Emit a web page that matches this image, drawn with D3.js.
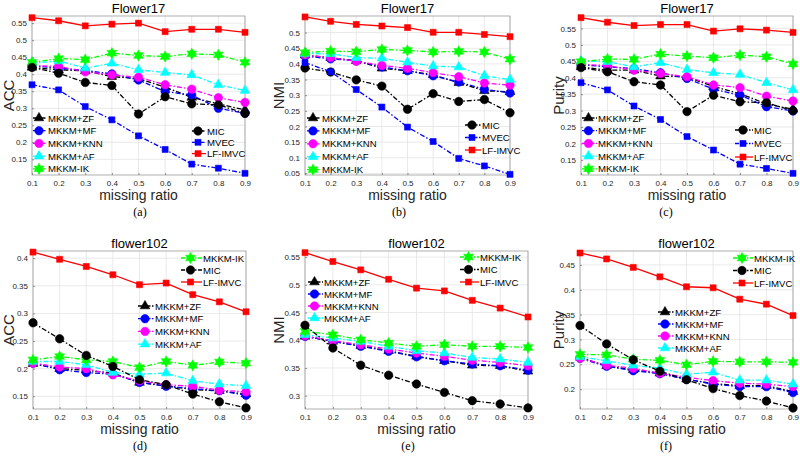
<!DOCTYPE html>
<html>
<head>
<meta charset="utf-8">
<script src="https://cdn.jsdelivr.net/npm/d3@7"></script>
<style>
  body { margin: 0; background: #fff; }
  svg { font-family: "Liberation Sans", Arial, sans-serif; }
  .tick text { fill: #262626; font-size: 8px; }
  .grid line { stroke: #e3e3e3; stroke-width: 0.8; }
</style>
</head>
<body>
<svg id="chart" width="800" height="459"></svg>
<script>
"use strict"

// x values shared by all panels
var ratios = [0.1, 0.2, 0.3, 0.4, 0.5, 0.6, 0.7, 0.8, 0.9]

var seriesNames = ["MKKM+ZF", "MKKM+MF", "MKKM+KNN", "MKKM+AF", "MKKM-IK", "MIC", "MVEC", "LF-IMVC"]

// rows follow seriesNames
var accFlower17 = [
  [0.420, 0.413, 0.410, 0.393, 0.387, 0.362, 0.332, 0.313, 0.295],
  [0.425, 0.418, 0.411, 0.401, 0.383, 0.349, 0.339, 0.300, 0.285],
  [0.425, 0.423, 0.407, 0.398, 0.391, 0.369, 0.356, 0.331, 0.317],
  [0.432, 0.439, 0.418, 0.432, 0.413, 0.405, 0.398, 0.369, 0.352],
  [0.435, 0.446, 0.443, 0.462, 0.455, 0.452, 0.460, 0.457, 0.435],
  [0.420, 0.403, 0.376, 0.367, 0.283, 0.334, 0.313, 0.310, 0.285],
  [0.369, 0.354, 0.305, 0.266, 0.219, 0.179, 0.136, 0.124, 0.109],
  [0.566, 0.557, 0.542, 0.547, 0.550, 0.525, 0.532, 0.532, 0.523]
]
var nmiFlower17 = [
  [0.428, 0.420, 0.410, 0.386, 0.378, 0.365, 0.340, 0.314, 0.311],
  [0.425, 0.416, 0.410, 0.390, 0.378, 0.362, 0.342, 0.319, 0.307],
  [0.428, 0.420, 0.408, 0.395, 0.386, 0.372, 0.359, 0.339, 0.332],
  [0.433, 0.432, 0.420, 0.418, 0.405, 0.393, 0.390, 0.362, 0.350],
  [0.436, 0.441, 0.439, 0.446, 0.443, 0.438, 0.440, 0.438, 0.415],
  [0.387, 0.374, 0.349, 0.329, 0.255, 0.305, 0.280, 0.286, 0.244],
  [0.404, 0.375, 0.318, 0.262, 0.198, 0.152, 0.098, 0.074, 0.047],
  [0.550, 0.536, 0.526, 0.521, 0.516, 0.501, 0.501, 0.494, 0.487]
]
var purityFlower17 = [
  [0.433, 0.423, 0.423, 0.405, 0.403, 0.373, 0.352, 0.320, 0.304],
  [0.440, 0.433, 0.428, 0.415, 0.398, 0.365, 0.347, 0.312, 0.299],
  [0.441, 0.437, 0.423, 0.413, 0.403, 0.378, 0.370, 0.344, 0.329],
  [0.451, 0.449, 0.433, 0.446, 0.425, 0.415, 0.410, 0.385, 0.363],
  [0.449, 0.457, 0.456, 0.472, 0.466, 0.461, 0.469, 0.464, 0.442],
  [0.431, 0.418, 0.388, 0.378, 0.297, 0.347, 0.327, 0.324, 0.300],
  [0.385, 0.363, 0.314, 0.273, 0.221, 0.180, 0.137, 0.124, 0.109],
  [0.583, 0.569, 0.559, 0.562, 0.562, 0.542, 0.549, 0.545, 0.538]
]
var accFlower102 = [
  [0.209, 0.200, 0.197, 0.192, 0.175, 0.169, 0.162, 0.160, 0.154],
  [0.210, 0.198, 0.193, 0.190, 0.175, 0.168, 0.164, 0.160, 0.152],
  [0.210, 0.203, 0.200, 0.189, 0.178, 0.171, 0.168, 0.161, 0.158],
  [0.213, 0.213, 0.207, 0.193, 0.190, 0.192, 0.178, 0.172, 0.169],
  [0.216, 0.222, 0.216, 0.213, 0.202, 0.213, 0.206, 0.212, 0.210],
  [0.283, 0.254, 0.224, 0.204, 0.180, 0.171, 0.154, 0.140, 0.129],
  null,
  [0.411, 0.398, 0.385, 0.370, 0.352, 0.355, 0.334, 0.321, 0.303]
]
var nmiFlower102 = [
  [0.407, 0.398, 0.390, 0.381, 0.371, 0.363, 0.355, 0.354, 0.344],
  [0.407, 0.398, 0.389, 0.380, 0.370, 0.363, 0.357, 0.354, 0.346],
  [0.408, 0.399, 0.392, 0.384, 0.377, 0.371, 0.364, 0.360, 0.354],
  [0.410, 0.404, 0.398, 0.389, 0.381, 0.377, 0.369, 0.366, 0.360],
  [0.416, 0.410, 0.401, 0.395, 0.389, 0.392, 0.389, 0.389, 0.387],
  [0.427, 0.386, 0.355, 0.337, 0.321, 0.306, 0.291, 0.285, 0.278],
  null,
  [0.558, 0.542, 0.527, 0.510, 0.494, 0.489, 0.472, 0.458, 0.442]
]
var purityFlower102 = [
  [0.264, 0.247, 0.239, 0.232, 0.220, 0.211, 0.207, 0.207, 0.195],
  [0.262, 0.246, 0.237, 0.231, 0.220, 0.210, 0.205, 0.205, 0.193],
  [0.262, 0.248, 0.242, 0.232, 0.224, 0.217, 0.212, 0.210, 0.205],
  [0.265, 0.257, 0.248, 0.242, 0.230, 0.234, 0.218, 0.218, 0.210],
  [0.270, 0.269, 0.260, 0.258, 0.249, 0.256, 0.255, 0.255, 0.254],
  [0.328, 0.291, 0.259, 0.236, 0.219, 0.201, 0.187, 0.176, 0.162],
  null,
  [0.474, 0.462, 0.445, 0.426, 0.406, 0.404, 0.381, 0.371, 0.348]
]

var xTicks = [0.1, 0.2, 0.3, 0.4, 0.5, 0.6, 0.7, 0.8, 0.9]

var styles = [
  { color: "#000000", marker: "triangle", dash: true },
  { color: "#0000ff", marker: "circle", dash: true },
  { color: "#ff00ff", marker: "circle", dash: true },
  { color: "#00ffff", marker: "triangle", dash: true },
  { color: "#00ff00", marker: "hexagram", dash: true },
  { color: "#000000", marker: "circle", dash: true },
  { color: "#0000ff", marker: "square", dash: true },
  { color: "#ff0000", marker: "square", dash: false }
]

// panel frames, caption spots and legend placement
var panels = [
  { data: accFlower17, title: "Flower17", ylab: "ACC", tag: "(a)", tagX: 140,
    x0: 32, x1: 245, y0: 16, y1: 175, ymin: 0.104, ymax: 0.571,
    yticks: [0.15, 0.2, 0.25, 0.3, 0.35, 0.4, 0.45, 0.5, 0.55], ylabX: 9,
    legends: [ { items: [0, 1, 2, 3, 4], x: 33, y: 118, dy: 12.7, len: 14 },
               { items: [5, 6, 7], x: 192, y: 131, dy: 11.3, len: 14 } ] },
  { data: nmiFlower17, title: "Flower17", ylab: "NMI", tag: "(b)", tagX: 399,
    x0: 305, x1: 510, y0: 16, y1: 175, ymin: 0.045, ymax: 0.553,
    yticks: [0.05, 0.1, 0.15, 0.2, 0.25, 0.3, 0.35, 0.4, 0.45, 0.5], ylabX: 279,
    legends: [ { items: [0, 1, 2, 3, 4], x: 307, y: 118, dy: 12.9, len: 14 },
               { items: [5, 6, 7], x: 465, y: 125, dy: 12.5, len: 16 } ] },
  { data: purityFlower17, title: "Flower17", ylab: "Purity", tag: "(c)", tagX: 666,
    x0: 581, x1: 793, y0: 16, y1: 175, ymin: 0.104, ymax: 0.588,
    yticks: [0.15, 0.2, 0.25, 0.3, 0.35, 0.4, 0.45, 0.5, 0.55], ylabX: 559,
    legends: [ { items: [0, 1, 2, 3, 4], x: 582, y: 118, dy: 12.7, len: 15 },
               { items: [5, 6, 7], x: 735, y: 130, dy: 13.5, len: 18 } ] },
  { data: accFlower102, title: "flower102", ylab: "ACC", tag: "(d)", tagX: 140,
    x0: 33, x1: 246, y0: 251, y1: 409, ymin: 0.127, ymax: 0.413,
    yticks: [0.15, 0.2, 0.25, 0.3, 0.35, 0.4], ylabX: 9,
    legends: [ { items: [4, 5, 7], x: 181, y: 258, dy: 12, len: 21 },
               { items: [0, 1, 2, 3], x: 138, y: 306, dy: 12.7, len: 16 } ] },
  { data: nmiFlower102, title: "flower102", ylab: "NMI", tag: "(e)", tagX: 408,
    x0: 305, x1: 528, y0: 251, y1: 409, ymin: 0.276, ymax: 0.561,
    yticks: [0.3, 0.35, 0.4, 0.45, 0.5, 0.55], ylabX: 279,
    legends: [ { items: [4, 5, 7], x: 460, y: 257, dy: 12.5, len: 19 },
               { items: [0, 1, 2, 3], x: 308, y: 282, dy: 12, len: 15 } ] },
  { data: purityFlower102, title: "flower102", ylab: "Purity", tag: "(f)", tagX: 666,
    x0: 580, x1: 793, y0: 251, y1: 409, ymin: 0.16, ymax: 0.478,
    yticks: [0.2, 0.25, 0.3, 0.35, 0.4, 0.45], ylabX: 559,
    legends: [ { items: [4, 5, 7], x: 733, y: 258, dy: 12.5, len: 20 },
               { items: [0, 1, 2, 3], x: 658, y: 312, dy: 12, len: 16 } ] }
]

var svg = d3.select("#chart")

function hexagram(r) {
  var pts = []
  for (var i = 0; i < 12; i++) {
    var a = Math.PI / 6 * i - Math.PI / 2
    var rr = (i % 2 == 0) ? r : r * 0.55
    pts.push([Math.cos(a) * rr, Math.sin(a) * rr])
  }
  return "M" + pts.map(function(p){ return p[0].toFixed(2) + "," + p[1].toFixed(2) }).join("L") + "Z"
}

function markerPath(kind) {
  if (kind == "triangle") return d3.symbol(d3.symbolTriangle, 40)()
  if (kind == "circle") return d3.symbol(d3.symbolCircle, 56)()
  if (kind == "square") return d3.symbol(d3.symbolSquare, 36)()
  return hexagram(5.6)
}

function drawMarker(g, kind, color, x, y) {
  g.append("path")
    .attr("d", markerPath(kind))
    .attr("transform", "translate(" + x + "," + y + ")")
    .attr("fill", color)
    .attr("stroke", color)
    .attr("stroke-width", 0.6)
}

function drawPanel(p) {
  var x = d3.scaleLinear().domain([0.1, 0.9]).range([p.x0, p.x1])
  var y = d3.scaleLinear().domain([p.ymin, p.ymax]).range([p.y1, p.y0])
  var g = svg.append("g")

  // grid
  var grid = g.append("g").attr("class", "grid")
  grid.selectAll(".vg").data(xTicks).enter().append("line")
    .attr("x1", function(d){ return x(d) }).attr("x2", function(d){ return x(d) })
    .attr("y1", p.y0).attr("y2", p.y1)
  grid.selectAll(".hg").data(p.yticks).enter().append("line")
    .attr("x1", p.x0).attr("x2", p.x1)
    .attr("y1", function(d){ return y(d) }).attr("y2", function(d){ return y(d) })

  // axes
  var fmt = function(d){ return String(+d.toFixed(2)) }
  var xa = g.append("g").attr("transform", "translate(0," + p.y1 + ")")
    .call(d3.axisBottom(x).tickValues(xTicks).tickFormat(fmt).tickSize(-2).tickPadding(5))
  var ya = g.append("g").attr("transform", "translate(" + p.x0 + ",0)")
    .call(d3.axisLeft(y).tickValues(p.yticks).tickFormat(fmt).tickSize(-2).tickPadding(5))
  ;[xa, ya].forEach(function(a){
    a.select(".domain").remove()
    a.selectAll(".tick line").attr("stroke", "#262626").attr("stroke-width", 0.5)
  })
  g.append("rect")
    .attr("x", p.x0).attr("y", p.y0)
    .attr("width", p.x1 - p.x0).attr("height", p.y1 - p.y0)
    .attr("fill", "none").attr("stroke", "#8c8c8c").attr("stroke-width", 0.7)

  // series
  var line = d3.line().x(function(d, i){ return x(ratios[i]) }).y(function(d){ return y(d) })
  p.data.forEach(function(vals, si) {
    if (!vals) return
    var st = styles[si]
    g.append("path")
      .attr("d", line(vals))
      .attr("fill", "none")
      .attr("stroke", st.color)
      .attr("stroke-width", 1.3)
      .attr("stroke-dasharray", st.dash ? "5,2,1.5,2" : null)
    vals.forEach(function(v, i){ drawMarker(g, st.marker, st.color, x(ratios[i]), y(v)) })
  })

  // legends
  p.legends.forEach(function(lg) {
    var lgG = g.append("g")
    lg.items.forEach(function(si, k) {
      var st = styles[si]
      var ly = lg.y + k * lg.dy
      lgG.append("line")
        .attr("x1", lg.x).attr("x2", lg.x + lg.len)
        .attr("y1", ly).attr("y2", ly)
        .attr("stroke", st.color).attr("stroke-width", 1.3)
        .attr("stroke-dasharray", st.dash ? "4,1.5,1.5,1.5" : null)
      drawMarker(lgG, st.marker, st.color, lg.x + lg.len / 2 - 1, ly)
      lgG.append("text")
        .attr("x", lg.x + lg.len + 1).attr("y", ly + 3.5)
        .attr("font-size", "9.6px").attr("fill", "#000")
        .text(seriesNames[si])
    })
  })

  // labels
  var cx = (p.x0 + p.x1) / 2
  g.append("text").attr("x", cx).attr("y", p.y0 - 3)
    .attr("text-anchor", "middle").attr("font-size", "13px").attr("fill", "#000")
    .text(p.title)
  g.append("text").attr("x", cx).attr("y", p.y1 + 25)
    .attr("text-anchor", "middle").attr("font-size", "14px").attr("fill", "#262626")
    .text("missing ratio")
  g.append("text")
    .attr("transform", "translate(" + (p.ylabX + 5) + "," + ((p.y0 + p.y1) / 2) + ") rotate(-90)")
    .attr("text-anchor", "middle").attr("font-size", "15px").attr("fill", "#262626")
    .text(p.ylab)
  g.append("text").attr("x", p.tagX).attr("y", p.y1 + 41)
    .attr("text-anchor", "middle").attr("font-size", "12px")
    .attr("font-family", "'Liberation Serif', 'Times New Roman', serif").attr("fill", "#000")
    .text(p.tag)
}

panels.forEach(drawPanel)
</script>
</body>
</html>
